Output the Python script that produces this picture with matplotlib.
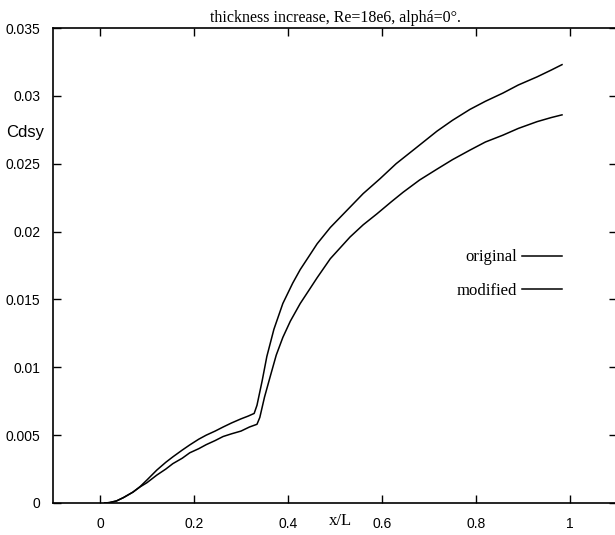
import matplotlib
matplotlib.use('Agg')
import matplotlib.pyplot as plt

# data
x_modified = [0.01, 0.02, 0.035, 0.05, 0.07, 0.085, 0.10, 0.121, 0.14, 0.155, 0.175, 0.191,
              0.21, 0.226, 0.245, 0.262, 0.28, 0.30, 0.315, 0.328,
              0.334, 0.345, 0.355, 0.37, 0.389, 0.41, 0.426, 0.445, 0.462, 0.49, 0.532,
              0.56, 0.596, 0.63, 0.67, 0.717, 0.75, 0.787, 0.82, 0.857, 0.89, 0.93, 0.96, 0.983]
y_modified = [0.0, 0.00003, 0.00015, 0.0004, 0.0008, 0.0012, 0.0017, 0.00243, 0.0030, 0.0034, 0.0039, 0.00428,
              0.0047, 0.0050, 0.0053, 0.0056, 0.0059, 0.0062, 0.0064, 0.0066,
              0.0072, 0.0090, 0.0108, 0.0128, 0.0147, 0.0162, 0.0172, 0.0182, 0.0191, 0.0203, 0.0218,
              0.0228, 0.0239, 0.0250, 0.0261, 0.0274, 0.0282, 0.0290, 0.0296, 0.0302, 0.0308, 0.0314, 0.0319, 0.0323]

x_original = [0.01, 0.02, 0.035, 0.05, 0.07, 0.085, 0.10, 0.121, 0.14, 0.155, 0.175, 0.191,
              0.21, 0.226, 0.245, 0.262, 0.28, 0.30, 0.318, 0.334,
              0.340, 0.35, 0.362, 0.375, 0.389, 0.405, 0.426, 0.445, 0.462, 0.49, 0.532,
              0.56, 0.589, 0.62, 0.645, 0.68, 0.717, 0.75, 0.787, 0.82, 0.857, 0.89, 0.93, 0.96, 0.983]
y_original = [0.0, 0.00003, 0.00015, 0.0004, 0.0008, 0.00118, 0.0015, 0.00206, 0.0025, 0.0029, 0.0033, 0.0037,
              0.0040, 0.0043, 0.0046, 0.0049, 0.0051, 0.0053, 0.0056, 0.0058,
              0.0063, 0.0078, 0.0093, 0.0109, 0.0122, 0.0134, 0.0147, 0.0157, 0.0166, 0.0180, 0.0196,
              0.0205, 0.0213, 0.0222, 0.0229, 0.0238, 0.0246, 0.0253, 0.0260, 0.0266, 0.0271, 0.0276, 0.0281, 0.0284, 0.0286]

x_ticks = [0, 0.2, 0.4, 0.6, 0.8, 1]
x_labels = ['0', '0.2', '0.4', '0.6', '0.8', '1']
y_ticks = [0, 0.005, 0.01, 0.015, 0.02, 0.025, 0.03, 0.035]
y_labels = ['0', '0.005', '0.01', '0.015', '0.02', '0.025', '0.03', '0.035']

fig = plt.figure(figsize=(6.15, 5.35), dpi=100)
ax = fig.add_axes([53 / 615, 32 / 535, 564 / 615, 475 / 535])

ax.plot(x_original, y_original, color='black', lw=1.1, label='original')
ax.plot(x_modified, y_modified, color='black', lw=1.1, label='modified')

ax.set_xlim(-0.1, 1.1)
ax.set_ylim(0, 0.035)
ax.set_xticks(x_ticks)
ax.set_xticklabels(x_labels, family='Liberation Sans', fontsize=10)
ax.set_yticks(y_ticks)
ax.set_yticklabels(y_labels, family='Liberation Sans', fontsize=10)
ax.tick_params(direction='in', length=6, width=1, top=True, right=True)
ax.tick_params(axis='x', pad=10)
ax.tick_params(axis='y', pad=9)
for s in ax.spines.values():
    s.set_linewidth(1.2)

ax.set_title('thickness increase, Re=18e6, alphá=0°.', family='Liberation Serif',
             fontsize=11.5, pad=4)
fig.text(44 / 615, 1 - 133 / 535, 'Cdsy', family='Liberation Sans', fontsize=12,
         ha='right', va='center')
fig.text(340 / 615, 1 - 521 / 535, 'x/L', family='Liberation Serif', fontsize=12,
         ha='center', va='center')

ax.legend(loc='upper right', bbox_to_anchor=(570 / 615, 1 - 241 / 535),
          bbox_transform=fig.transFigure, frameon=False, markerfirst=False,
          handlelength=2.4, handletextpad=0.3, labelspacing=1.05, borderpad=0,
          prop={'family': 'Liberation Serif', 'size': 12})

plt.savefig('out.png', dpi=100)
